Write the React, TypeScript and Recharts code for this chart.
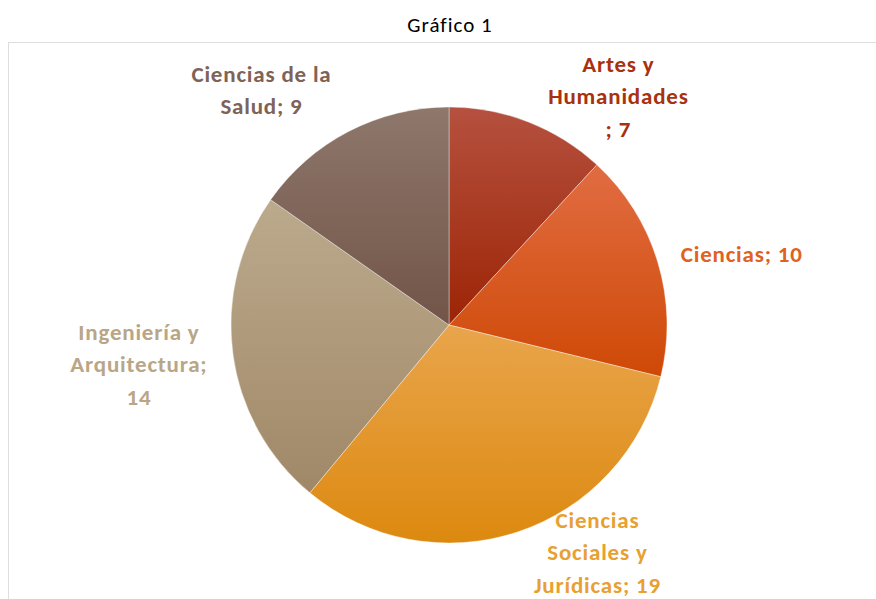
import { PieChart, Pie, Cell } from 'recharts'

const categories = ['Artes y Humanidades', 'Ciencias', 'Ciencias Sociales y Jurídicas', 'Ingeniería y Arquitectura', 'Ciencias de la Salud']
const values = [7, 10, 19, 14, 9]
const labelLines = [
  ['Artes y', 'Humanidades', '; 7'],
  ['Ciencias; 10'],
  ['Ciencias', 'Sociales y', 'Jurídicas; 19'],
  ['Ingeniería y', 'Arquitectura;', '14'],
  ['Ciencias de la', 'Salud; 9'],
]

const data = categories.map((name, i) => ({ name, value: values[i] }))

// gradient top / bottom per slice, plus label colour
const fills = [
  { top: '#b5513f', bottom: '#9d2405', text: '#a8310f' },
  { top: '#e16c42', bottom: '#cf4906', text: '#e0621f' },
  { top: '#e9a54c', bottom: '#dc890f', text: '#e8a032' },
  { top: '#bcaa8d', bottom: '#a08867', text: '#b9a686' },
  { top: '#8e776b', bottom: '#725448', text: '#7f6357' },
]

// nudges from the slice edge to the first line of each label
const nudges = [
  [90, -50],
  [84, 0],
  [80, -4],
  [-94, -14],
  [-87, -50],
]

const RADIAN = Math.PI / 180
const font = 'Carlito, Calibri, Lato, sans-serif'

const renderLabel = (props: any) => {
  const { cx, cy, midAngle, outerRadius, index } = props
  const ex = cx + outerRadius * Math.cos(-midAngle * RADIAN)
  const ey = cy + outerRadius * Math.sin(-midAngle * RADIAN)
  const [nx, ny] = nudges[index]
  const x = ex + nx
  return (
    <text
      x={x}
      y={ey + ny}
      textAnchor="middle"
      fill={fills[index].text}
      fontSize={23}
      fontWeight="bold"
      letterSpacing={0.8}
      fontFamily={font}
    >
      {labelLines[index].map((line, j) => (
        <tspan key={j} x={x} dy={j === 0 ? 0 : 32.5}>{line}</tspan>
      ))}
    </text>
  )
}

export default function App() {
  return (
    <div style={{ position: 'absolute', left: 0, top: 0, width: 876, height: 599, overflow: 'hidden', background: '#fff' }}>
      <div style={{ position: 'absolute', left: 0, top: 12, width: 900, textAlign: 'center', fontFamily: font, fontSize: 21, letterSpacing: 1, color: '#000' }}>
        Gráfico 1
      </div>
      <div style={{ position: 'absolute', left: 8, top: 42, width: 900, height: 600, border: '1.5px solid #dedede' }} />
      <div style={{ position: 'absolute', left: 0, top: 0 }}>
        <PieChart width={876} height={599} margin={{ top: 0, right: 0, bottom: 0, left: 0 }}>
          <defs>
            {fills.map((f, i) => (
              <linearGradient key={i} id={`g${i}`} x1="0" y1="0" x2="0" y2="1">
                <stop offset="0%" stopColor={f.top} />
                <stop offset="100%" stopColor={f.bottom} />
              </linearGradient>
            ))}
          </defs>
          <Pie
            data={data}
            dataKey="value"
            nameKey="name"
            cx={449}
            cy={325}
            outerRadius={218}
            startAngle={90}
            endAngle={-270}
            stroke="rgba(255,255,255,0.5)"
            strokeWidth={0.75}
            label={renderLabel}
            labelLine={false}
            isAnimationActive={false}
          >
            {data.map((d, i) => (
              <Cell key={d.name} fill={`url(#g${i})`} />
            ))}
          </Pie>
        </PieChart>
      </div>
    </div>
  )
}
